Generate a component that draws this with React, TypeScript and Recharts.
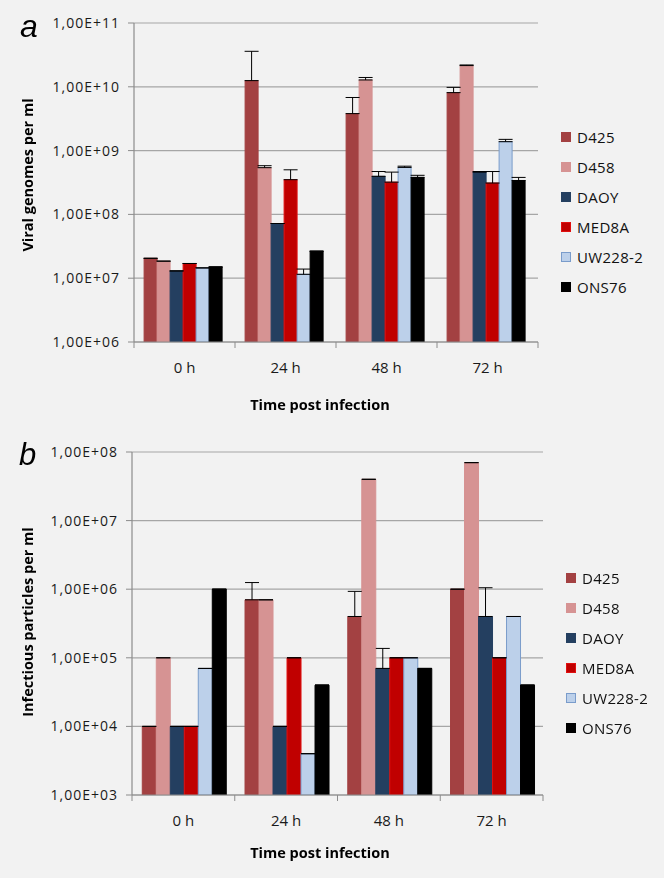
import React from "react";
import {
  BarChart,
  Bar,
  XAxis,
  YAxis,
  CartesianGrid,
  Legend,
  ErrorBar,
} from "recharts";

const timePoints = ["0 h", "24 h", "48 h", "72 h"];
const cellLines = ["D425", "D458", "DAOY", "MED8A", "UW228-2", "ONS76"];

// panel a: viral genomes per ml
const genomesD425 = [2.05e7, 1.25e10, 3.8e9, 8.1e9];
const genomesD458 = [1.85e7, 5.4e8, 1.28e10, 2.15e10];
const genomesDAOY = [1.3e7, 7.2e7, 3.95e8, 4.6e8];
const genomesMED8A = [1.7e7, 3.5e8, 3.2e8, 3.1e8];
const genomesUW228 = [1.45e7, 1.15e7, 5.45e8, 1.38e9];
const genomesONS76 = [1.5e7, 2.65e7, 3.8e8, 3.4e8];

const genomesErrD425 = [0, 2.35e10, 3.0e9, 1.7e9];
const genomesErrD458 = [0, 4e7, 1.2e9, 5e8];
const genomesErrDAOY = [0, 0, 7.5e7, 1e7];
const genomesErrMED8A = [0, 1.5e8, 1.4e8, 1.6e8];
const genomesErrUW228 = [0, 2.4e6, 2.5e7, 1.2e8];
const genomesErrONS76 = [0, 0, 3e7, 4e7];

// panel b: infectious particles per ml
const particlesD425 = [1e4, 7e5, 4e5, 1e6];
const particlesD458 = [1e5, 7e5, 4e7, 7e7];
const particlesDAOY = [1e4, 1e4, 7e4, 4e5];
const particlesMED8A = [1e4, 1e5, 1e5, 1e5];
const particlesUW228 = [7e4, 4e3, 1e5, 4e5];
const particlesONS76 = [1e6, 4e4, 7e4, 4e4];

const particlesErrD425 = [0, 5.5e5, 5.3e5, 0];
const particlesErrD458 = [0, 0, 0, 0];
const particlesErrDAOY = [0, 0, 6.7e4, 6.5e5];
const particlesErrMED8A = [0, 0, 0, 0];
const particlesErrUW228 = [0, 0, 0, 0];
const particlesErrONS76 = [0, 0, 0, 0];

const genomeTicks = [1e6, 1e7, 1e8, 1e9, 1e10, 1e11];
const particleTicks = [1e3, 1e4, 1e5, 1e6, 1e7, 1e8];

const seriesStyle: Record<string, { fill: string; stroke: string }> = {
  D425: { fill: "#A34142", stroke: "#A34142" },
  D458: { fill: "#D69393", stroke: "#D69393" },
  DAOY: { fill: "#243F60", stroke: "#243F60" },
  MED8A: { fill: "#C00000", stroke: "#E01010" },
  "UW228-2": { fill: "#BCD0EA", stroke: "#7A9CCB" },
  ONS76: { fill: "#000000", stroke: "#000000" },
};

const font = "'Open Sans', sans-serif";
const axisGray = "#8c8c8c";
const gridGray = "#a6a6a6";

const buildRows = (values: number[][], errors: number[][]) =>
  timePoints.map((time, i) => {
    const row: Record<string, any> = { time };
    cellLines.forEach((name, s) => {
      row[name] = values[s][i];
      row[name + "_err"] = [0, errors[s][i]];
    });
    return row;
  });

const genomeRows = buildRows(
  [genomesD425, genomesD458, genomesDAOY, genomesMED8A, genomesUW228, genomesONS76],
  [genomesErrD425, genomesErrD458, genomesErrDAOY, genomesErrMED8A, genomesErrUW228, genomesErrONS76]
);

const particleRows = buildRows(
  [particlesD425, particlesD458, particlesDAOY, particlesMED8A, particlesUW228, particlesONS76],
  [particlesErrD425, particlesErrD458, particlesErrDAOY, particlesErrMED8A, particlesErrUW228, particlesErrONS76]
);

const sciLabel = (v: number) => {
  const exp = Math.round(Math.log10(v));
  return `1,00E+${String(exp).padStart(2, "0")}`;
};

const makeTimeTick = (halfBand: number) => (props: any) => {
  const { x, y, payload, index, visibleTicksCount } = props;
  const half = payload?.offset || halfBand;
  return (
    <g>
      <line x1={x - half} x2={x - half} y1={y} y2={y + 6} stroke={axisGray} />
      {index === visibleTicksCount - 1 && (
        <line x1={x + half} x2={x + half} y1={y} y2={y + 6} stroke={axisGray} />
      )}
      <text
        x={x}
        y={y + 25}
        textAnchor="middle"
        dominantBaseline="central"
        fontSize={15}
        fontFamily={font}
        fill="#1a1a1a"
      >
        {payload.value}
      </text>
    </g>
  );
};

const LegendList: React.FC = () => (
  <div style={{ display: "flex", flexDirection: "column", fontFamily: font }}>
    {cellLines.map((name) => (
      <div
        key={name}
        style={{ height: 30, display: "flex", alignItems: "center" }}
      >
        <span
          style={{
            width: 8,
            height: 8,
            background: seriesStyle[name].fill,
            border: `1px solid ${seriesStyle[name].stroke}`,
            marginRight: 6,
            display: "inline-block",
          }}
        />
        <span style={{ fontSize: 15, color: "#111", letterSpacing: 0.3 }}>
          {name}
        </span>
      </div>
    ))}
  </div>
);

interface PanelProps {
  rows: Record<string, any>[];
  ticks: number[];
  height: number;
  yWidth: number;
  right: number;
  top: number;
  bottom: number;
  legendTop: number;
  legendLeft: number;
}

const Panel: React.FC<PanelProps> = ({
  rows,
  ticks,
  height,
  yWidth,
  right,
  top,
  bottom,
  legendTop,
  legendLeft,
}) => {
  const halfBand = (664 - yWidth - right) / timePoints.length / 2;
  return (
    <BarChart
      width={664}
      height={height}
      data={rows}
      margin={{ top, right, left: 0, bottom }}
      barCategoryGap="10%"
      barGap={0}
    >
      <CartesianGrid vertical={false} stroke={gridGray} strokeWidth={1.2} />
      <XAxis
        dataKey="time"
        height={30}
        axisLine={{ stroke: axisGray, strokeWidth: 1.2 }}
        tickLine={false}
        tickSize={0}
        tickMargin={0}
        interval={0}
        tick={makeTimeTick(halfBand)}
      />
      <YAxis
        type="number"
        scale="log"
        domain={[ticks[0], ticks[ticks.length - 1]]}
        ticks={ticks}
        allowDataOverflow
        width={yWidth}
        axisLine={{ stroke: axisGray, strokeWidth: 1.2 }}
        tickLine={{ stroke: axisGray }}
        tickSize={6}
        tickMargin={8}
        tickFormatter={sciLabel}
        tick={{
          fontSize: 14,
          fill: "#1a1a1a",
          fontFamily: font,
          letterSpacing: 1,
        }}
      />
      <Legend
        layout="vertical"
        align="center"
        verticalAlign="middle"
        content={() => <LegendList />}
        wrapperStyle={{ left: legendLeft, top: legendTop, width: 100 }}
      />
      {cellLines.map((name) => (
        <Bar
          key={name}
          dataKey={name}
          name={name}
          fill={seriesStyle[name].fill}
          stroke={seriesStyle[name].stroke}
          strokeWidth={1}
          isAnimationActive={false}
        >
          <ErrorBar
            dataKey={name + "_err"}
            direction="y"
            width={7}
            stroke="#000"
            strokeWidth={1}
          />
        </Bar>
      ))}
    </BarChart>
  );
};

const titleProps = {
  textAnchor: "middle" as const,
  dominantBaseline: "central" as const,
  fontSize: 14.5,
  fontWeight: "bold",
  fontFamily: font,
  fill: "#000",
};

const App: React.FC = () => {
  return (
    <div
      style={{
        position: "fixed",
        left: 0,
        top: 0,
        width: 664,
        height: 878,
        background: "#F2F2F2",
        fontFamily: font,
      }}
    >
      <div style={{ position: "absolute", left: 0, top: 0 }}>
        <Panel
          rows={genomeRows}
          ticks={genomeTicks}
          height={430}
          yWidth={134}
          right={126}
          top={23}
          bottom={58}
          legendTop={122}
          legendLeft={561}
        />
      </div>
      <div style={{ position: "absolute", left: 0, top: 430 }}>
        <Panel
          rows={particleRows}
          ticks={particleTicks}
          height={448}
          yWidth={132}
          right={121}
          top={22}
          bottom={53}
          legendTop={133}
          legendLeft={566}
        />
      </div>
      <svg
        width={664}
        height={878}
        style={{ position: "absolute", left: 0, top: 0, pointerEvents: "none" }}
      >
        <text x={20} y={37} fontSize={32} fontStyle="italic" fontFamily="'Liberation Sans', Arial, sans-serif" fill="#000">
          a
        </text>
        <text x={19} y={465} fontSize={31} fontStyle="italic" fontFamily="'Liberation Sans', Arial, sans-serif" fill="#000">
          b
        </text>
        <text x={27} y={175} transform="rotate(-90 27 175)" {...titleProps}>
          Viral genomes per ml
        </text>
        <text x={27} y={622} transform="rotate(-90 27 622)" {...titleProps}>
          Infectious particles per ml
        </text>
        <text x={320} y={404} {...titleProps}>
          Time post infection
        </text>
        <text x={320} y={852} {...titleProps}>
          Time post infection
        </text>
      </svg>
    </div>
  );
};

export default App;
